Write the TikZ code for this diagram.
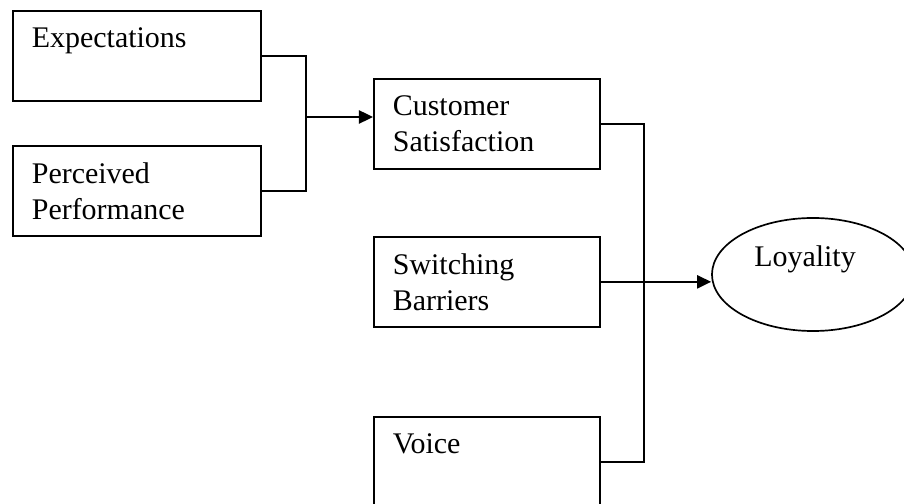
\documentclass[tikz,border=0pt]{standalone}
\usepackage{fontspec}
\setmainfont{Liberation Serif}
\usetikzlibrary{shapes.geometric}
\usetikzlibrary{arrows.meta}
\tikzset{
	node_box/.style = {
		rectangle,
		draw=black,
		line width=1.2pt,
		align=left,
		anchor=north west,
		inner xsep=0.475cm,
		inner ysep=0pt,
		text width=5.25cm,
		minimum height=2.25cm,
		font=\fontsize{21.3pt}{25.6pt}\selectfont
	},
	node_box_mid/.style = {
		node_box,
		text width=4.7cm
	},
	node_goal/.style = {
		ellipse,
		draw=black,
		line width=1.2pt,
		align=center,
		inner sep=0pt,
		minimum width=5.05cm,
		minimum height=2.825cm,
		font=\fontsize{21.3pt}{25.6pt}\selectfont
	},
}

\begin{document}
\begin{tikzpicture}[x=0.025cm, y=-0.025cm, line width=1.2pt, >={Triangle[length=0.35cm, width=0.33cm]}]
\useasboundingbox (0,0) rectangle (904,504);
% left column
\node [node_box] (exp) at (12,10) {Expectations\\\mbox{}};
\node [node_box] (perc) at (12,145) {Perceived\\Performance};
% middle column
\node [node_box_mid] (cs) at (373,78) {Customer\\Satisfaction};
\node [node_box_mid] (sw) at (373,236) {Switching\\Barriers};
\node [node_box_mid] (voice) at (373,416) {Voice\\\mbox{}};
% result
\node [node_goal] (loyal) at (813,274.5) {\hspace*{-0.4cm}Loyality\\\mbox{}};
% connectors
\coordinate (jl) at (306,117);
\coordinate (jr) at (644,281);
\draw (exp.east) -| (jl) |- (perc.east);
\draw [->] (jl) -- (jl -| cs.west);
\draw (cs.east) -| (jr) |- (voice.east);
\draw [->] (sw.east) -- (sw.east -| loyal.west);
\end{tikzpicture}
\end{document}
